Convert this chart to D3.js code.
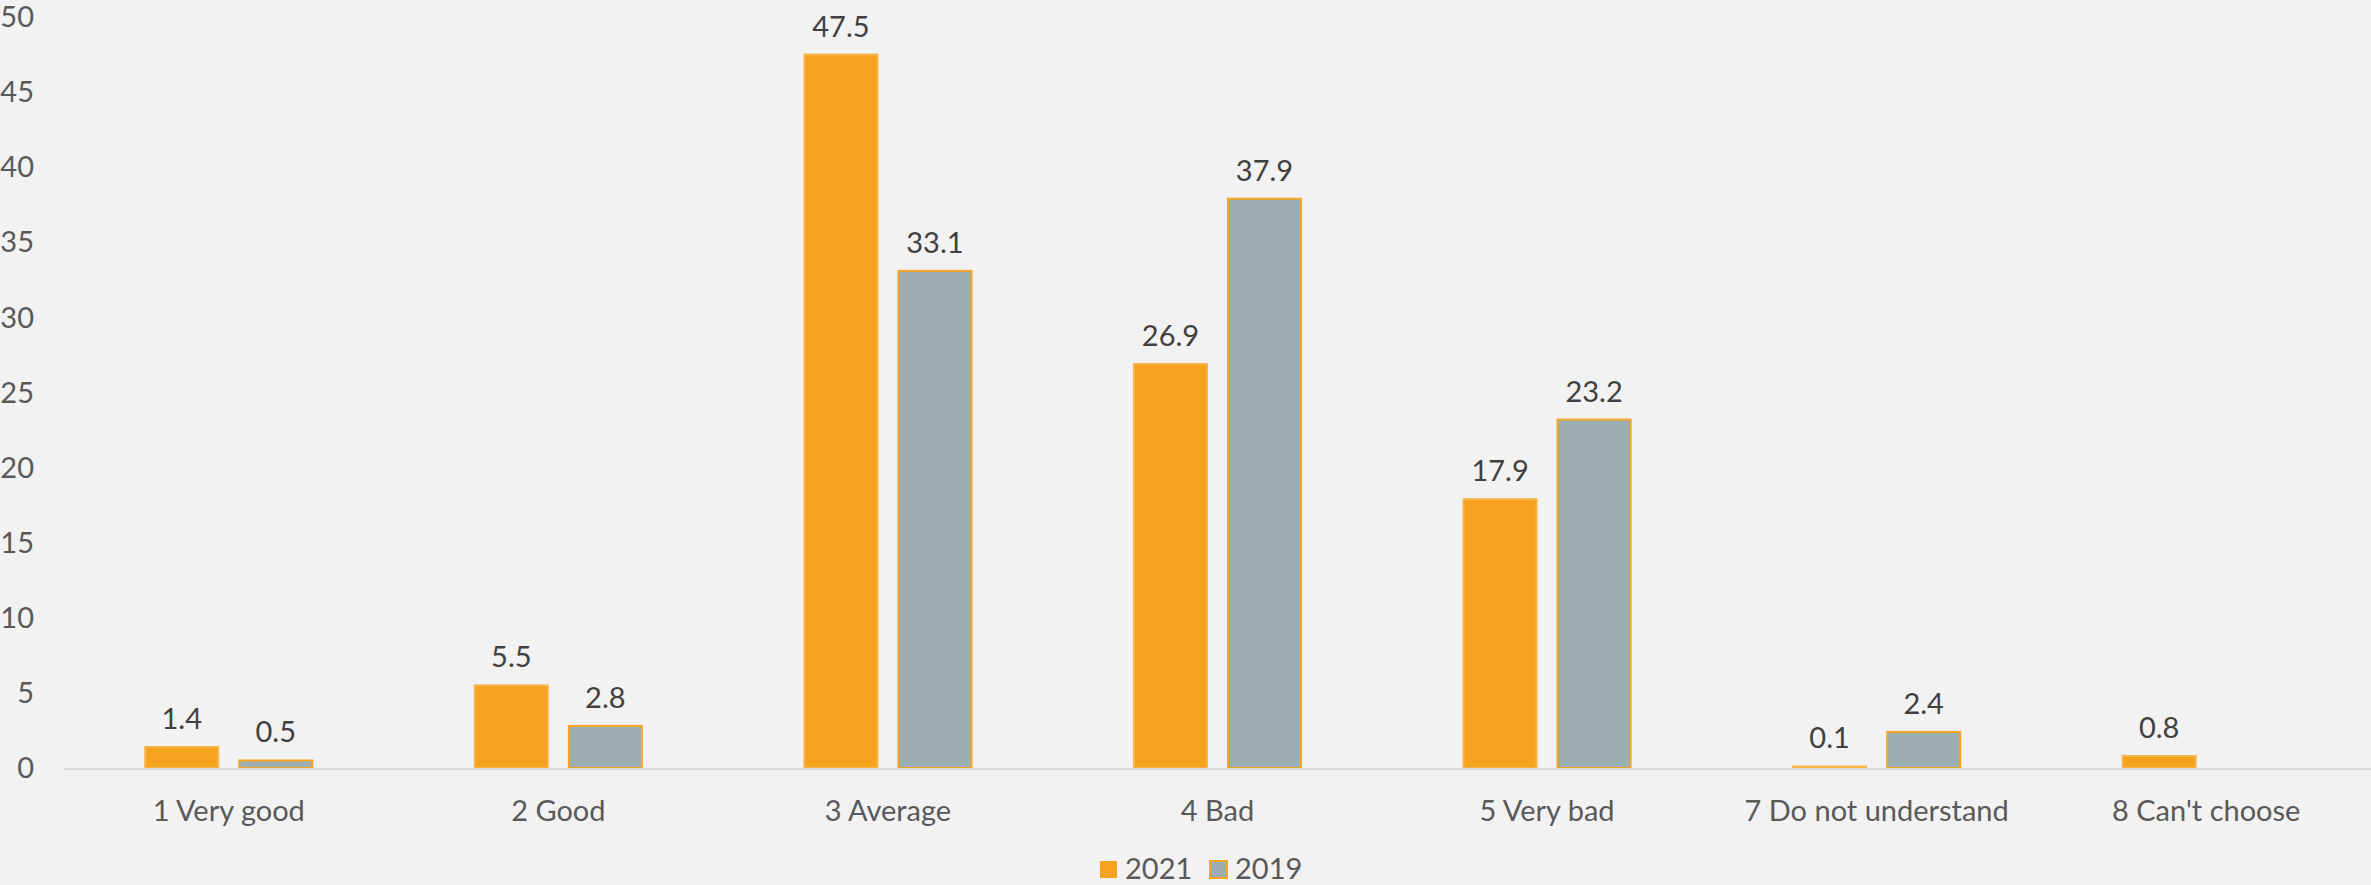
<!DOCTYPE html>
<html>
<head>
<meta charset="utf-8">
<script src="https://cdn.jsdelivr.net/npm/d3@7"></script>
<style>
  html, body { margin: 0; padding: 0; background: #f2f2f2; }
  svg { display: block; font-family: Lato, "Open Sans", sans-serif; }
</style>
</head>
<body>
<svg id="chart"></svg>
<script>
const categories = ['1 Very good', '2 Good', '3 Average', '4 Bad', '5 Very bad', '7 Do not understand', "8 Can't choose"]
const series = ['2021', '2019']
const values2021 = [1.4, 5.5, 47.5, 26.9, 17.9, 0.1, 0.8]
const values2019 = [0.5, 2.8, 33.1, 37.9, 23.2, 2.4, null]
const yTicks = [0, 5, 10, 15, 20, 25, 30, 35, 40, 45, 50]

const width = 2371, height = 885
const margin = {top: 17, right: 0, bottom: 117, left: 64}

const colors = {'2021': '#f5a31e', '2019': '#9daeb3'}
const strokes = {'2021': '#f7b54a', '2019': '#f5a623'}

const rows = categories.map((c, i) => ({
  cat: c,
  vals: [
    {key: '2021', v: values2021[i]},
    {key: '2019', v: values2019[i]}
  ]
}))

const svg = d3.select('#chart')
  .attr('width', width)
  .attr('height', height)

svg.append('rect').attr('width', width).attr('height', height).attr('fill', '#f2f2f2')

const x0 = d3.scaleBand()
  .domain(categories)
  .range([margin.left, width - margin.right])

const x1 = d3.scaleBand()
  .domain(series)
  .range([0, x0.bandwidth()])
  .paddingInner(0.223)
  .paddingOuter(0.864)

const y = d3.scaleLinear()
  .domain([0, 50])
  .range([height - margin.bottom, margin.top])

// y axis labels
svg.append('g')
  .selectAll('text')
  .data(yTicks)
  .join('text')
    .attr('x', 34)
    .attr('y', d => y(d))
    .attr('dy', '0.35em')
    .attr('text-anchor', 'end')
    .attr('fill', '#595959')
    .style('font-size', '29px')
    .text(d => d)

// bars
const groups = svg.append('g')
  .selectAll('g')
  .data(rows)
  .join('g')
    .attr('transform', d => `translate(${x0(d.cat)},0)`)

groups.selectAll('rect')
  .data(d => d.vals.filter(e => e.v != null))
  .join('rect')
    .attr('x', d => x1(d.key))
    .attr('y', d => y(d.v))
    .attr('width', x1.bandwidth())
    .attr('height', d => y(0) - y(d.v))
    .attr('fill', d => colors[d.key])
    .attr('stroke', d => strokes[d.key])
    .attr('stroke-width', 2)

groups.selectAll('text')
  .data(d => d.vals.filter(e => e.v != null))
  .join('text')
    .attr('x', d => x1(d.key) + x1.bandwidth() / 2)
    .attr('y', d => y(d.v) - 18)
    .attr('text-anchor', 'middle')
    .attr('fill', '#404040')
    .style('font-size', '29px')
    .text(d => d.v.toFixed(1))

// x axis line
svg.append('line')
  .attr('x1', margin.left)
  .attr('x2', width - margin.right)
  .attr('y1', y(0) + 1)
  .attr('y2', y(0) + 1)
  .attr('stroke', '#d9d9d9')
  .attr('stroke-width', 2)

// category labels
svg.append('g')
  .selectAll('text')
  .data(categories)
  .join('text')
    .attr('x', d => x0(d) + x0.bandwidth() / 2)
    .attr('y', 821)
    .attr('text-anchor', 'middle')
    .attr('fill', '#595959')
    .style('font-size', '29px')
    .text(d => d)

// legend
const legend = svg.append('g')
const legendX = {'2021': 1100, '2019': 1210}
series.forEach(s => {
  legend.append('rect')
    .attr('x', legendX[s])
    .attr('y', 861)
    .attr('width', 17)
    .attr('height', 17)
    .attr('fill', colors[s])
    .attr('stroke', s === '2019' ? strokes[s] : 'none')
    .attr('stroke-width', 2)
  legend.append('text')
    .attr('x', legendX[s] + 25)
    .attr('y', 879)
    .attr('fill', '#595959')
    .style('font-size', '29px')
    .text(s)
})
</script>
</body>
</html>
